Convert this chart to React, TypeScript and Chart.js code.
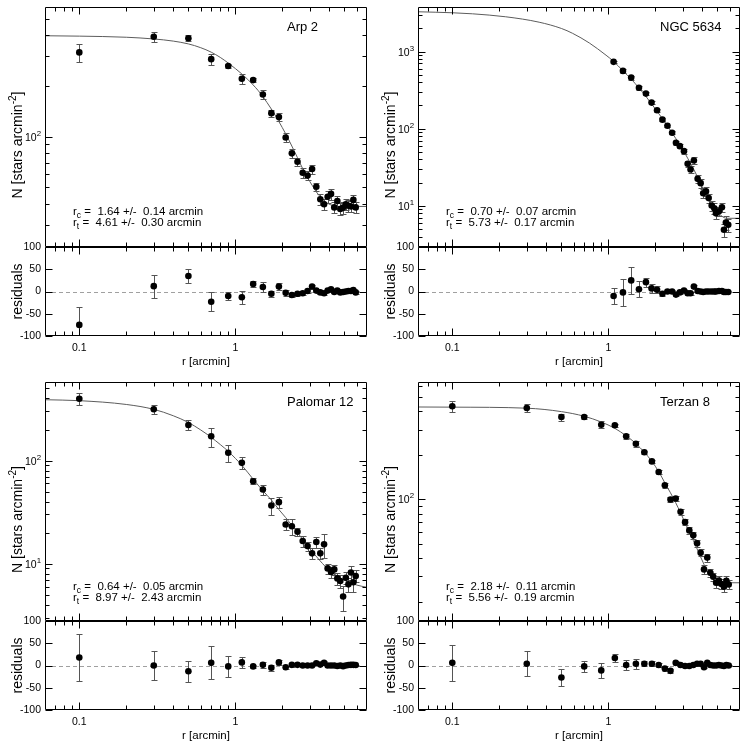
import React, { useEffect, useRef } from 'react';
import { Chart, registerables } from 'chart.js';

Chart.register(...registerables);

const FONT = '"Liberation Sans", Arial, Helvetica, sans-serif';

// ---------- shared axes ----------
const xMin = 0.0603;
const xMax = 6.97;
const xMajor = [0.1, 1];
const xMajorLabels = ['0.1', '1'];
const xMinor = [0.07, 0.08, 0.09, 0.2, 0.3, 0.4, 0.5, 0.6, 0.7, 0.8, 0.9, 2, 3, 4, 5, 6];
const resTicks = [-100, -50, 0, 50, 100];
const resTickLabels = ['-100', '-50', '0', '50', '100'];

// ---------- Arp 2 ----------
const arpR = [0.1, 0.3, 0.5, 0.7, 0.9, 1.1, 1.3, 1.5, 1.7, 1.9, 2.1, 2.3, 2.5, 2.7, 2.9, 3.1, 3.3, 3.5, 3.7, 3.9, 4.1, 4.3, 4.5, 4.7, 4.9, 5.1, 5.3, 5.5, 5.7, 5.9];
const arpN = [317, 393, 385, 289, 263, 221, 217, 178, 138, 131, 99, 79.6, 71, 61.1, 58.7, 64.3, 50.4, 42.5, 39.7, 44, 45.7, 38, 41.5, 37.2, 37.9, 39.7, 38.9, 38.5, 42.1, 38];
const arpErr = [40, 26, 15, 21, 8, 14, 7, 11, 7, 7, 6, 5, 4, 4, 3.5, 4, 3, 3, 3, 3.5, 3.5, 3, 3, 3, 3, 3, 3, 3, 3, 3];
const arpRes = [-75, 12, 35, -23, -10, -13, 17, 10, -5, 11, -3, -8, -5, -4, 1, 11, 2, -2, -4, 2, 5, -1, 2, -2, -1, 0, 1, 1, 3, -2];
const arpFitR = [0.0603, 0.1, 0.2, 0.3, 0.4, 0.5, 0.6, 0.7, 0.8, 0.9, 1.0, 1.1, 1.2, 1.3, 1.4, 1.5, 1.7, 1.9, 2.1, 2.3, 2.5, 2.7, 2.9, 3.1, 3.3, 3.5, 3.7, 3.9, 4.2, 4.61, 6.97];
const arpFitN = [398, 396, 390, 381, 370, 356, 338, 318, 296, 274, 254, 236, 219, 203, 188, 173, 146, 123, 104, 88, 75, 64.5, 57, 51.5, 47, 44, 41.8, 40.2, 39, 38.5, 38.5];
const arpYTicks = [100];
const arpYTickExp = ['2'];

// ---------- NGC 5634 ----------
const ngcR = [1.08, 1.24, 1.40, 1.57, 1.74, 1.89, 2.05, 2.22, 2.39, 2.56, 2.71, 2.87, 3.05, 3.22, 3.36, 3.53, 3.73, 3.90, 4.05, 4.22, 4.39, 4.59, 4.77, 4.89, 5.11, 5.34, 5.50, 5.66, 5.86];
const ngcN = [735, 561, 459, 340, 285, 218, 173, 131, 109, 88.7, 65.8, 59.4, 51.2, 35.1, 29.6, 38.7, 22.4, 19.7, 14.6, 15.4, 12.6, 10.1, 9.3, 8.0, 8.5, 9.6, 4.9, 6.1, 5.7];
const ngcErr = [17, 30, 30, 18, 10, 10, 8, 5, 4, 4, 4, 4, 4, 3.5, 3, 4, 2.5, 2.5, 2, 2, 1.8, 1.5, 1.5, 1.2, 1.2, 1.3, 0.9, 1.2, 1.1];
const ngcRes = [-10, -2, 25, 5, 21, 7, 4, -5, 0, 0, -7, -2, 2, -4, -4, 11, 1, 0, -1, 0, 0, 0, 0, 0, 1, 1, -1, -1, -1];
const ngcFitR = [0.0603, 0.1, 0.135, 0.22, 0.36, 0.5, 0.59, 0.755, 0.966, 1.08, 1.24, 1.40, 1.57, 1.74, 1.89, 2.05, 2.22, 2.39, 2.56, 2.71, 2.87, 3.05, 3.22, 3.36, 3.53, 3.73, 3.90, 4.05, 4.22, 4.39, 4.59, 4.77, 4.89, 5.11, 5.34, 5.50, 5.73, 6.97];
const ngcFitN = [3275, 3180, 3080, 2820, 2400, 1990, 1720, 1290, 896, 745, 563, 440, 337, 262, 210, 168, 135, 109, 88, 74, 62, 50.5, 41.5, 35.5, 29.5, 23.5, 19.5, 16.5, 14, 12, 10.3, 9.2, 8.6, 7.9, 7.35, 7.05, 6.9, 6.9];
const ngcYTicks = [10, 100, 1000];
const ngcYTickExp = ['1', '2', '3'];

// ---------- Palomar 12 ----------
const palR = [0.1, 0.3, 0.5, 0.7, 0.9, 1.1, 1.3, 1.5, 1.7, 1.9, 2.1, 2.3, 2.5, 2.7, 2.9, 3.1, 3.3, 3.5, 3.7, 3.9, 4.1, 4.3, 4.5, 4.7, 4.9, 5.1, 5.3, 5.5, 5.7, 5.9];
const palN = [398, 314, 221, 172, 119, 95, 63, 52.4, 36.7, 39.5, 24, 23.1, 20.4, 16.6, 14.8, 12.6, 16.2, 12.6, 15.4, 9.0, 8.3, 8.8, 7.2, 6.8, 4.8, 7.3, 6.3, 8.2, 6.6, 7.6];
const palErr = [52, 32, 24, 37, 23, 13, 4, 6, 7, 5, 3, 4, 2, 2, 1.5, 1.5, 2, 1.5, 4, 1, 1, 1, 1, 1, 1.3, 1, 1, 1.2, 1.3, 1];
const palRes = [18, 0, -13, 6, -2, 7, -2, 1.5, -5, 7, -4, 1.5, 1.5, 0, 0, 0, 5, 2, 6, 0, 0, 0, -1, 0, -1.5, 0, 1, 1.5, 1.5, 1];
const palFitR = [0.0603, 0.1, 0.2, 0.3, 0.4, 0.5, 0.6, 0.7, 0.8, 0.9, 1.0, 1.1, 1.3, 1.5, 1.7, 1.9, 2.1, 2.5, 3.0, 3.5, 4.0, 4.5, 5.0, 6.0, 6.97];
const palFitN = [389, 381, 350, 314, 272, 234, 198, 168, 143, 123, 105, 90, 66, 51, 41.5, 33.5, 28, 20, 14, 10.6, 8.6, 7.6, 6.9, 6.2, 5.9];
const palYTicks = [10, 100];
const palYTickExp = ['1', '2'];

// ---------- Terzan 8 ----------
const terR = [0.1, 0.3, 0.5, 0.7, 0.9, 1.1, 1.3, 1.5, 1.7, 1.9, 2.1, 2.3, 2.5, 2.7, 2.9, 3.1, 3.3, 3.5, 3.7, 3.9, 4.1, 4.3, 4.5, 4.7, 4.9, 5.1, 5.3, 5.5, 5.7, 5.9];
const terN = [433, 421, 366, 366, 324, 321, 270, 240, 210, 182, 154, 125, 100, 101.6, 82.4, 70, 61.5, 56.9, 50.2, 43.3, 33.3, 40.1, 31.6, 29.7, 27.0, 28.0, 26.5, 25.4, 27.8, 26.3];
const terErr = [40, 28, 20, 13, 17, 9, 12, 11, 5, 5, 5, 5, 4, 4, 3.5, 3, 3, 3, 2.5, 2.5, 2.5, 2.5, 2, 2, 2, 2, 2, 2, 2, 2];
const terRes = [6, 4, -27, -2, -11, 17, 1, 4, 4, 4, 1, -7, -12, 6, 1, -1, -1, 1, 4, 4, -4, 6, 1, 0, 0, 1, 0, -1, 1, 0];
const terFitR = [0.0603, 0.1, 0.3, 0.5, 0.7, 0.9, 1.1, 1.3, 1.5, 1.7, 1.9, 2.1, 2.3, 2.5, 2.7, 2.9, 3.1, 3.3, 3.5, 3.7, 3.9, 4.1, 4.3, 4.5, 4.7, 4.9, 5.1, 5.56, 6.97];
const terFitN = [428, 427, 420, 398, 370, 338, 306, 272, 241, 210, 182, 155, 130, 111, 95, 81, 69.5, 60, 52.5, 46, 40.5, 36, 32.5, 30, 28.5, 27.6, 27.1, 27, 27];
const terYTicks = [100];
const terYTickExp = ['2'];

type PanelData = {
  name: string; rcText: string; rtText: string;
  r: number[]; n: number[]; err: number[]; res: number[];
  fitR: number[]; fitN: number[];
  yMin: number; yMax: number; yTicks: number[]; yTickExp: string[];
};

const PANELS: PanelData[] = [
  { name: 'Arp 2', rcText: ' =  1.64 +/-  0.14 arcmin', rtText: ' =  4.61 +/-  0.30 arcmin', r: arpR, n: arpN, err: arpErr, res: arpRes, fitR: arpFitR, fitN: arpFitN, yMin: 22.1, yMax: 590, yTicks: arpYTicks, yTickExp: arpYTickExp },
  { name: 'NGC 5634', rcText: ' =  0.70 +/-  0.07 arcmin', rtText: ' =  5.73 +/-  0.17 arcmin', r: ngcR, n: ngcN, err: ngcErr, res: ngcRes, fitR: ngcFitR, fitN: ngcFitN, yMin: 2.93, yMax: 3776, yTicks: ngcYTicks, yTickExp: ngcYTickExp },
  { name: 'Palomar 12', rcText: ' =  0.64 +/-  0.05 arcmin', rtText: ' =  8.97 +/-  2.43 arcmin', r: palR, n: palN, err: palErr, res: palRes, fitR: palFitR, fitN: palFitN, yMin: 2.78, yMax: 578, yTicks: palYTicks, yTickExp: palYTickExp },
  { name: 'Terzan 8', rcText: ' =  2.18 +/-  0.11 arcmin', rtText: ' =  5.56 +/-  0.19 arcmin', r: terR, n: terN, err: terErr, res: terRes, fitR: terFitR, fitN: terFitN, yMin: 14.8, yMax: 634, yTicks: terYTicks, yTickExp: terYTickExp },
];

type Geom = { left: number; right: number; top: number; mid: number; bottom: number };
const GEOM: Geom[] = [
  { left: 45, right: 367, top: 7, mid: 247, bottom: 336 },
  { left: 418, right: 740, top: 7, mid: 247, bottom: 336 },
  { left: 45, right: 367, top: 382, mid: 621, bottom: 710 },
  { left: 418, right: 740, top: 382, mid: 621, bottom: 710 },
];

const MAJ = 7;
const MIN = 4;
const TICK_FS = 10.5;
const XTITLE_FS = 11.5;
const YTITLE_FS = 14;

function logMinor(min: number, max: number) {
  const out: number[] = [];
  for (let d = Math.floor(Math.log10(min)); d <= Math.ceil(Math.log10(max)); d++) {
    for (let k = 2; k <= 9; k++) {
      const v = k * Math.pow(10, d);
      if (v > min && v < max) out.push(v);
    }
  }
  return out;
}

type Seg = { t: string; s: number; dy: number };
function richWidth(ctx: CanvasRenderingContext2D, segs: Seg[]) {
  let w = 0;
  for (const g of segs) { ctx.font = `${g.s}px ${FONT}`; w += ctx.measureText(g.t).width; }
  return w;
}
function drawRich(ctx: CanvasRenderingContext2D, segs: Seg[], x: number, y: number) {
  ctx.textAlign = 'left';
  ctx.textBaseline = 'alphabetic';
  for (const g of segs) {
    ctx.font = `${g.s}px ${FONT}`;
    ctx.fillText(g.t, x, y + g.dy);
    x += ctx.measureText(g.t).width;
  }
}
function drawRotated(ctx: CanvasRenderingContext2D, segs: Seg[], cx: number, cy: number, base: number) {
  ctx.save();
  ctx.translate(cx, cy);
  ctx.rotate(-Math.PI / 2);
  const w = richWidth(ctx, segs);
  drawRich(ctx, segs, -w / 2, base);
  ctx.restore();
}

function makePlugin(kind: 'main' | 'res', p: PanelData, g: Geom) {
  return {
    id: 'deco' + kind,
    beforeDatasetsDraw(chart: any) {
      const { ctx, chartArea: a } = chart;
      const xs = chart.scales.x;
      const ys = chart.scales.y;
      ctx.save();
      ctx.beginPath();
      ctx.rect(a.left, a.top, a.right - a.left, a.bottom - a.top);
      ctx.clip();
      if (kind === 'res') {
        const y0 = Math.round(ys.getPixelForValue(0)) + 0.5;
        ctx.strokeStyle = '#a0a0a0';
        ctx.lineWidth = 1;
        ctx.setLineDash([4, 3]);
        ctx.beginPath();
        ctx.moveTo(a.left, y0);
        ctx.lineTo(a.right, y0);
        ctx.stroke();
        ctx.setLineDash([]);
      }
      ctx.strokeStyle = '#555';
      ctx.lineWidth = 1;
      ctx.beginPath();
      const vals = kind === 'main' ? p.n : p.res;
      for (let i = 0; i < p.r.length; i++) {
        const v = vals[i];
        const e = p.err[i];
        const x = Math.round(xs.getPixelForValue(p.r[i])) + 0.5;
        let lo = v - e;
        if (kind === 'main' && lo <= 0) lo = p.yMin;
        const y1 = Math.round(ys.getPixelForValue(lo)) + 0.5;
        const y2 = Math.round(ys.getPixelForValue(v + e)) + 0.5;
        ctx.moveTo(x, y1); ctx.lineTo(x, y2);
        ctx.moveTo(x - 3, y1); ctx.lineTo(x + 3, y1);
        ctx.moveTo(x - 3, y2); ctx.lineTo(x + 3, y2);
      }
      ctx.stroke();
      ctx.restore();
    },
    afterDraw(chart: any) {
      const { ctx, chartArea: a } = chart;
      const xs = chart.scales.x;
      const ys = chart.scales.y;
      ctx.save();
      ctx.strokeStyle = '#000';
      ctx.lineWidth = 1;
      const L = Math.round(a.left) + 0.5;
      const R = Math.round(a.right) - 0.5;
      const T = Math.round(a.top) + 0.5;
      const B = Math.round(a.bottom) - 0.5;
      ctx.beginPath();
      ctx.rect(L, T, R - L, B - T);
      const hx = (v: number, len: number) => {
        const x = Math.round(xs.getPixelForValue(v)) + 0.5;
        ctx.moveTo(x, T); ctx.lineTo(x, T + len);
        ctx.moveTo(x, B); ctx.lineTo(x, B - len);
      };
      const vy = (v: number, len: number) => {
        const y = Math.round(ys.getPixelForValue(v)) + 0.5;
        ctx.moveTo(L, y); ctx.lineTo(L + len, y);
        ctx.moveTo(R, y); ctx.lineTo(R - len, y);
      };
      xMajor.forEach((v) => hx(v, MAJ));
      xMinor.forEach((v) => hx(v, MIN));
      if (kind === 'main') {
        p.yTicks.forEach((v) => vy(v, MAJ));
        logMinor(p.yMin, p.yMax).forEach((v) => vy(v, MIN));
      } else {
        resTicks.forEach((v) => vy(v, MAJ));
      }
      ctx.stroke();

      ctx.fillStyle = '#000';
      if (kind === 'main') {
        p.yTicks.forEach((v, i) => {
          const y = ys.getPixelForValue(v);
          ctx.font = `${TICK_FS * 0.75}px ${FONT}`;
          const we = ctx.measureText(p.yTickExp[i]).width;
          ctx.font = `${TICK_FS}px ${FONT}`;
          const wb = ctx.measureText('10').width;
          const xr = a.left - 4;
          drawRich(ctx, [{ t: '10', s: TICK_FS, dy: 0 }, { t: p.yTickExp[i], s: TICK_FS * 0.75, dy: -5 }], xr - we - wb, y + 4);
        });
        drawRotated(ctx, [
          { t: 'N [stars arcmin', s: YTITLE_FS, dy: 0 },
          { t: '-2', s: YTITLE_FS * 0.72, dy: -6 },
          { t: ']', s: YTITLE_FS, dy: 0 },
        ], g.left - 28, (a.top + a.bottom) / 2 + 18, 5);
        drawRich(ctx, [{ t: p.name, s: 13, dy: 0 }], a.left + 242, a.top + 24);
        drawRich(ctx, [{ t: 'r', s: 11.5, dy: 0 }, { t: 'c', s: 8.5, dy: 3 }, { t: p.rcText, s: 11.5, dy: 0 }], a.left + 28, a.top + 208);
        drawRich(ctx, [{ t: 'r', s: 11.5, dy: 0 }, { t: 't', s: 8.5, dy: 3 }, { t: p.rtText, s: 11.5, dy: 0 }], a.left + 28, a.top + 219);
      } else {
        ctx.font = `${TICK_FS}px ${FONT}`;
        ctx.textAlign = 'right';
        ctx.textBaseline = 'middle';
        resTicks.forEach((v, i) => {
          ctx.fillText(resTickLabels[i], a.left - 4, ys.getPixelForValue(v));
        });
        ctx.textAlign = 'center';
        xMajor.forEach((v, i) => {
          ctx.fillText(xMajorLabels[i], xs.getPixelForValue(v), a.bottom + 12);
        });
        ctx.font = `${XTITLE_FS}px ${FONT}`;
        ctx.fillText('r [arcmin]', (a.left + a.right) / 2, a.bottom + 26);
        drawRotated(ctx, [{ t: 'residuals', s: YTITLE_FS, dy: 0 }], g.left - 28, (a.top + a.bottom) / 2, 5);
      }
      ctx.restore();
    },
  };
}

function ChartCanvas({ kind, p, g }: { kind: 'main' | 'res'; p: PanelData; g: Geom }) {
  const ref = useRef<HTMLCanvasElement>(null);
  useEffect(() => {
    const canvas = ref.current;
    if (!canvas) return;
    const top = kind === 'main' ? g.top : g.mid;
    const bottom = kind === 'main' ? g.mid : g.bottom;
    const vals = kind === 'main' ? p.n : p.res;
    const datasets: any[] = [
      {
        data: p.r.map((x, i) => ({ x, y: vals[i] })),
        showLine: false,
        pointRadius: 3.3,
        pointBackgroundColor: '#000',
        pointBorderColor: '#000',
        pointBorderWidth: 0,
      },
    ];
    if (kind === 'main') {
      datasets.push({
        data: p.fitR.map((x, i) => ({ x, y: p.fitN[i] })),
        showLine: true,
        pointRadius: 0,
        borderColor: '#5c5c5c',
        borderWidth: 1,
        cubicInterpolationMode: 'monotone',
        fill: false,
      });
    }
    const chart = new Chart(canvas, {
      type: 'scatter',
      data: { datasets },
      options: {
        animation: false,
        responsive: false,
        devicePixelRatio: 1,
        events: [],
        layout: { padding: { left: g.left, right: 747 - g.right, top, bottom: 747 - bottom } },
        plugins: { legend: { display: false }, tooltip: { enabled: false } },
        scales: {
          x: { type: 'logarithmic', min: xMin, max: xMax, display: false },
          y: kind === 'main'
            ? { type: 'logarithmic', min: p.yMin, max: p.yMax, display: false }
            : { type: 'linear', min: -100, max: 100, display: false },
        },
      } as any,
      plugins: [makePlugin(kind, p, g)],
    });
    return () => chart.destroy();
  }, [kind, p, g]);
  return (
    <canvas
      ref={ref}
      width={747}
      height={747}
      style={{ position: 'absolute', left: 0, top: 0, width: 747, height: 747 }}
    />
  );
}

export default function App() {
  return (
    <div style={{ position: 'absolute', left: 0, top: 0, width: 747, height: 747, background: '#fff', overflow: 'hidden' }}>
      {PANELS.map((p, i) => (
        <React.Fragment key={i}>
          <ChartCanvas kind="main" p={p} g={GEOM[i]} />
          <ChartCanvas kind="res" p={p} g={GEOM[i]} />
        </React.Fragment>
      ))}
    </div>
  );
}
